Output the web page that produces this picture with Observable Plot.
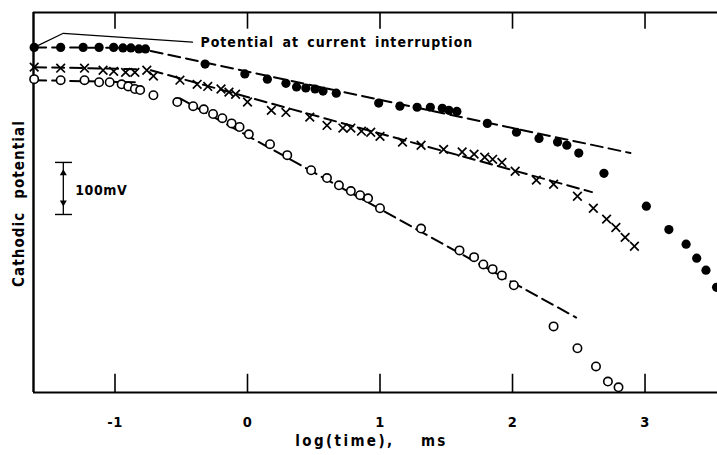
<!DOCTYPE html>
<html>
<head>
<meta charset="utf-8">
<script src="https://cdn.jsdelivr.net/npm/d3@7"></script>
<script src="https://cdn.jsdelivr.net/npm/@observablehq/plot@0.6"></script>
<style>
  html, body { margin: 0; padding: 0; background: #fff; }
  #chart svg { display: block; }
  #chart text { font-family: "DejaVu Sans Condensed", "DejaVu Sans", sans-serif; font-weight: bold; letter-spacing: 0.6px; }
</style>
</head>
<body>
<div id="chart"></div>
<script>
// log(time) [ms], cathodic potential [mV, arbitrary offset]
const filledPts = [
  [-1.61,663],[-1.41,663],[-1.24,663],[-1.12,663],[-1.01,663],[-0.94,662],[-0.88,662],[-0.82,660],[-0.77,660],
  [-0.32,631],[-0.02,612],[0.15,602],[0.29,594],[0.37,587],[0.44,585],[0.51,583],[0.57,579],[0.67,575],
  [0.99,556],[1.15,550],[1.28,548],[1.38,548],[1.47,546],[1.52,542],[1.58,540],[1.81,517],[2.03,500],
  [2.20,488],[2.34,481],[2.41,475],[2.50,460],[2.69,421],[3.01,358],[3.18,313],[3.31,285],[3.39,258],
  [3.46,235],[3.54,202]
];
const crossPts = [
  [-1.61,625],[-1.41,623],[-1.23,623],[-1.09,619],[-1.01,617],[-0.92,615],[-0.85,615],[-0.76,619],[-0.71,608],
  [-0.51,600],[-0.38,592],[-0.30,588],[-0.20,583],[-0.14,577],[-0.09,573],[0.00,558],[0.18,542],[0.29,538],
  [0.47,529],[0.60,513],[0.72,508],[0.78,508],[0.86,502],[0.93,500],[1.00,492],[1.17,481],[1.31,475],
  [1.48,467],[1.62,462],[1.71,458],[1.79,452],[1.85,448],[1.92,442],[2.02,425],[2.18,408],[2.31,400],
  [2.49,377],[2.61,354],[2.71,333],[2.78,317],[2.85,298],[2.92,281]
];
const openPts = [
  [-1.61,602],[-1.41,600],[-1.23,600],[-1.12,596],[-1.04,596],[-0.95,592],[-0.90,588],[-0.85,583],[-0.81,581],
  [-0.71,571],[-0.53,558],[-0.41,550],[-0.33,544],[-0.26,535],[-0.19,527],[-0.12,517],[-0.06,510],[0.01,496],
  [0.17,477],[0.30,456],[0.48,427],[0.60,412],[0.69,398],[0.78,387],[0.85,379],[0.91,373],[1.00,354],
  [1.31,315],[1.60,273],[1.71,260],[1.78,246],[1.85,237],[1.92,225],[2.01,206],[2.31,127],[2.49,85],
  [2.63,50],[2.72,21],[2.80,10]
];
// dashed fitted lines: [x, y, segment]
const filledFit = [[-1.61,663,"a"],[-0.81,662,"a"],[-0.73,656,"b"],[2.89,460,"b"]];
const crossFit  = [[-1.61,625,"a"],[-0.81,621,"a"],[-0.73,619,"b"],[2.60,385,"b"]];
const openFit   = [[-1.61,600,"a"],[-0.85,596,"a"],[-0.51,565,"b"],[2.48,144,"b"]];
// annotation leader line
const leader = [[-1.61,663],[-1.39,690],[-0.415,673]];
const annotation = "Potential at current interruption";
const xTicks = [-1, 0, 1, 2, 3];
const xDomain = [-1.615, 3.547];
const yDomain = [0, 730];
const scaleBar = {x: -1.39, y1: 342, y2: 442, label: "100mV"};
const xTitle = ["log(time),", "ms"];
const yTitle = "Cathodic potential";

const fmt = d => d < 0 ? "-" + (-d) : String(d);
const dash = "12,6";

const chart = Plot.plot({
  width: 717,
  height: 455,
  marginLeft: 33,
  marginRight: 0,
  marginTop: 12,
  marginBottom: 63,
  x: {domain: xDomain, axis: null},
  y: {domain: yDomain, axis: null},
  marks: [
    // frame
    Plot.ruleY([yDomain[0]], {stroke: "#000", strokeWidth: 2.2}),
    Plot.ruleY([yDomain[1]], {stroke: "#000", strokeWidth: 2}),
    Plot.ruleX([xDomain[0]], {stroke: "#000", strokeWidth: 2.4}),
    // inward ticks top and bottom
    Plot.ruleX(xTicks, {y1: yDomain[0], y2: 35, stroke: "#000", strokeWidth: 1.6}),
    Plot.ruleX(xTicks, {y1: yDomain[1], y2: 698, stroke: "#000", strokeWidth: 1.6}),
    // tick labels
    Plot.text(xTicks, {x: d => d, y: yDomain[0], dy: 30, text: fmt, fontSize: 14.5, fill: "#000"}),
    // axis titles
    Plot.text([xTitle[0]], {x: 0.36, y: yDomain[0], dy: 49, text: d => d, textAnchor: "start", fontSize: 15}),
    Plot.text([xTitle[1]], {x: 1.31, y: yDomain[0], dy: 49, text: d => d, textAnchor: "start", fontSize: 15}),
    Plot.text([yTitle], {x: xDomain[0], y: 363, dx: -14, rotate: -90, text: d => d, fontSize: 15}),
    // scale bar
    Plot.ruleX([scaleBar], {x: "x", y1: "y1", y2: "y2", stroke: "#000", strokeWidth: 1.3}),
    Plot.ruleY([scaleBar.y1, scaleBar.y2], {x1: -1.449, x2: -1.321, stroke: "#000", strokeWidth: 1.4}),
    Plot.dot([[scaleBar.x, 421, 0], [scaleBar.x, 365, 180]], {x: "0", y: "1", rotate: "2", symbol: "triangle", r: 2.6, fill: "#000", stroke: "none"}),
    Plot.text([scaleBar.label], {x: -1.30, y: 388, text: d => d, textAnchor: "start", fontSize: 14}),
    // annotation
    Plot.line(leader, {x: "0", y: "1", stroke: "#000", strokeWidth: 1.2}),
    Plot.text([annotation], {x: -0.355, y: 673, text: d => d, textAnchor: "start", fontSize: 14}),
    // fitted dashed lines
    Plot.line(filledFit, {x: "0", y: "1", z: "2", stroke: "#000", strokeWidth: 2, strokeDasharray: dash}),
    Plot.line(crossFit, {x: "0", y: "1", z: "2", stroke: "#000", strokeWidth: 2, strokeDasharray: dash}),
    Plot.line(openFit, {x: "0", y: "1", z: "2", stroke: "#000", strokeWidth: 2, strokeDasharray: dash}),
    // data
    Plot.dot(filledPts, {x: "0", y: "1", r: 4.6, fill: "#000", stroke: "none"}),
    Plot.dot(crossPts, {x: "0", y: "1", symbol: "times", r: 4.0, stroke: "#000", strokeWidth: 1.7, fill: "none"}),
    Plot.dot(openPts, {x: "0", y: "1", r: 4.2, stroke: "#000", strokeWidth: 1.6, fill: "#fff"})
  ]
});
// text spacing to match the wide lettering of the original
const spacing = {
  [annotation]: {ls: "1.0px", ws: "3px"},
  [xTitle[0]]: {ls: "2.4px", ws: "0px"},
  [xTitle[1]]: {ls: "2px", ws: "0px"},
  [yTitle]: {ls: "1.1px", ws: "7px"}
};
d3.select(chart).selectAll("text").each(function () {
  const s = spacing[this.textContent];
  if (s) d3.select(this).style("letter-spacing", s.ls).style("word-spacing", s.ws);
});
document.getElementById("chart").append(chart);
</script>
</body>
</html>
